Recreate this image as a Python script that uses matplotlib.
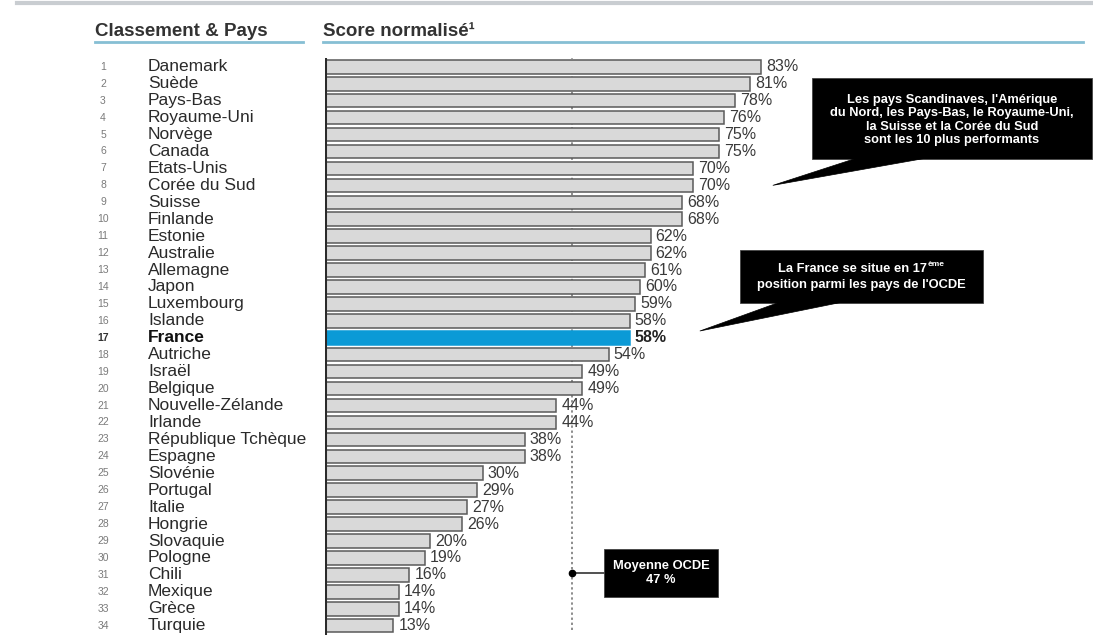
import matplotlib
matplotlib.use("Agg")
import matplotlib.pyplot as plt
from matplotlib import transforms
from matplotlib.patches import Rectangle, Polygon
from matplotlib.lines import Line2D

plt.rcParams["font.family"] = ["Liberation Sans", "DejaVu Sans"]

# ---- data -------------------------------------------------------------
ranks = list(range(1, 35))
countries = [
    "Danemark", "Suède", "Pays-Bas", "Royaume-Uni", "Norvège", "Canada",
    "Etats-Unis", "Corée du Sud", "Suisse", "Finlande", "Estonie",
    "Australie", "Allemagne", "Japon", "Luxembourg", "Islande", "France",
    "Autriche", "Israël", "Belgique", "Nouvelle-Zélande", "Irlande",
    "République Tchèque", "Espagne", "Slovénie", "Portugal", "Italie",
    "Hongrie", "Slovaquie", "Pologne", "Chili", "Mexique", "Grèce", "Turquie",
]
scores = [83, 81, 78, 76, 75, 75, 70, 70, 68, 68, 62, 62, 61, 60, 59, 58,
          58, 54, 49, 49, 44, 44, 38, 38, 30, 29, 27, 26, 20, 19, 16, 14,
          14, 13]
highlight = "France"
oecd_mean = 47

header_left = "Classement & Pays"
header_right = "Score normalisé¹"
note_top = ("Les pays Scandinaves, l'Amérique\n"
            "du Nord, les Pays-Bas, le Royaume-Uni,\n"
            "la Suisse et la Corée du Sud\n"
            "sont les 10 plus performants")
note_france_1 = "La France se situe en 17"
note_france_sup = "ème"
note_france_2 = "position parmi les pays de l'OCDE"
note_mean = f"Moyenne OCDE\n{oecd_mean} %"

# ---- figure -----------------------------------------------------------
W, H = 1093, 637
fig = plt.figure(figsize=(W / 100, H / 100), dpi=100)
fig.patch.set_facecolor("white")

# transform in pixel units measured from the top-left corner
px = transforms.Affine2D().scale(1 / W, -1 / H).translate(0, 1) + fig.transFigure

ax_left, ax_right, ax_top, ax_bot = 325, 1093, 57.5, 635
ax = fig.add_axes([ax_left / W, 1 - ax_bot / H,
                   (ax_right - ax_left) / W, (ax_bot - ax_top) / H])
px_per_pct = 5.25
ax.set_xlim(0, (ax_right - ax_left) / px_per_pct)
n = len(countries)
ax.set_ylim(n + 0.55, 0.45)
ax.axis("off")

grey_fill = "#d9d9d9"
grey_edge = "#5a5a5a"
blue = "#0b9ad6"

colors = [blue if c == highlight else grey_fill for c in countries]
edges = [blue if c == highlight else grey_edge for c in countries]
ax.barh(ranks, scores, height=0.8, color=colors, edgecolor=edges,
        linewidth=1.1, zorder=2)

# OECD mean reference line
ax.axvline(oecd_mean, ymin=0.008, ymax=1.0, color="#8c8c8c",
           linestyle=(0, (1.2, 1.4)), linewidth=1.4, zorder=1)

# vertical baseline
ax.axvline(0, color="#2b2b2b", linewidth=2.2, zorder=3)

# value labels
for r, c, s in zip(ranks, countries, scores):
    bold = c == highlight
    ax.text(s + 1.0, r, f"{s}%", va="center", ha="left", fontsize=11.5,
            color="#222222" if bold else "#3a3a3a",
            fontweight="bold" if bold else "normal", zorder=4)

# rank numbers and country names
row_tf = transforms.blended_transform_factory(px, ax.transData)
for r, c in zip(ranks, countries):
    bold = c == highlight
    ax.text(103, r, str(r), transform=row_tf, ha="center", va="center",
            fontsize=7.5, color="#333333" if bold else "#7a7a7a",
            fontweight="bold" if bold else "normal", clip_on=False)
    ax.text(148, r, c, transform=row_tf, ha="left", va="center",
            fontsize=12.5, color="#111111" if bold else "#2a2a2a",
            fontweight="bold" if bold else "normal", clip_on=False)

# ---- headers ----------------------------------------------------------
fig.add_artist(Line2D([17, W], [3, 3], transform=px, color="#c9cdd1",
                      linewidth=3))
fig.text(95, 36, header_left, transform=px, fontsize=13.5,
         fontweight="bold", color="#333333", va="baseline")
fig.text(323, 36, header_right, transform=px, fontsize=13.5,
         fontweight="bold", color="#333333", va="baseline")
underline = "#86bfd4"
fig.add_artist(Line2D([95, 303], [42, 42], transform=px, color=underline,
                      linewidth=2))
fig.add_artist(Line2D([323, 1083], [42, 42], transform=px, color=underline,
                      linewidth=2))

# ---- callouts ---------------------------------------------------------
def callout_box(x0, y0, x1, y1):
    fig.add_artist(Rectangle((x0, y0), x1 - x0, y1 - y0, transform=px,
                             facecolor="black", edgecolor="#444444",
                             linewidth=0.6, zorder=5))


def pointer(base, tip):
    fig.add_artist(Polygon([base[0], base[1], tip], closed=True,
                           transform=px, facecolor="black",
                           edgecolor="black", linewidth=0.5, zorder=5))


note_style = dict(fontsize=9.3, fontweight="bold", color="white", zorder=6)

# top-10 note, pointing at row 8
callout_box(812, 78, 1092, 159)
tip1 = px.inverted().transform(ax.transData.transform((85.3, 8)))
pointer([(857, 158), (927, 158)], tip1)
fig.text(952, 120, note_top, transform=px, ha="center", va="center",
         linespacing=1.18, **note_style)

# France note
callout_box(740, 250, 983, 303)
tip2 = px.inverted().transform(ax.transData.transform((71.4, 16.6)))
pointer([(780, 302), (843, 302)], tip2)

renderer = fig.canvas.get_renderer()
main1 = fig.text(0, 0, note_france_1, transform=px, ha="left",
                 va="center", **note_style)
sup1 = fig.text(0, 0, note_france_sup, transform=px, ha="left",
                va="center", fontsize=6, fontweight="bold", color="white",
                zorder=6)
w_main = main1.get_window_extent(renderer).width
w_sup = sup1.get_window_extent(renderer).width
x_start = 861 - (w_main + w_sup + 1) / 2
main1.set_position((x_start, 269))
sup1.set_position((x_start + w_main + 1, 264))
fig.text(861, 285, note_france_2, transform=px, ha="center", va="center",
         **note_style)

# OECD mean note
mean_px = px.inverted().transform(ax.transData.transform((oecd_mean, 0)))[0]
fig.add_artist(Line2D([mean_px, 604], [573, 573], transform=px,
                      color="#333333", linewidth=1.2, zorder=5))
fig.add_artist(Line2D([mean_px], [573], transform=px, marker="o",
                      markersize=4.5, color="black", zorder=6))
callout_box(604, 549, 718, 597)
fig.text(661, 573, note_mean, transform=px, ha="center", va="center",
         linespacing=1.25, **note_style)

fig.savefig("out.png", dpi=100, facecolor="white")
